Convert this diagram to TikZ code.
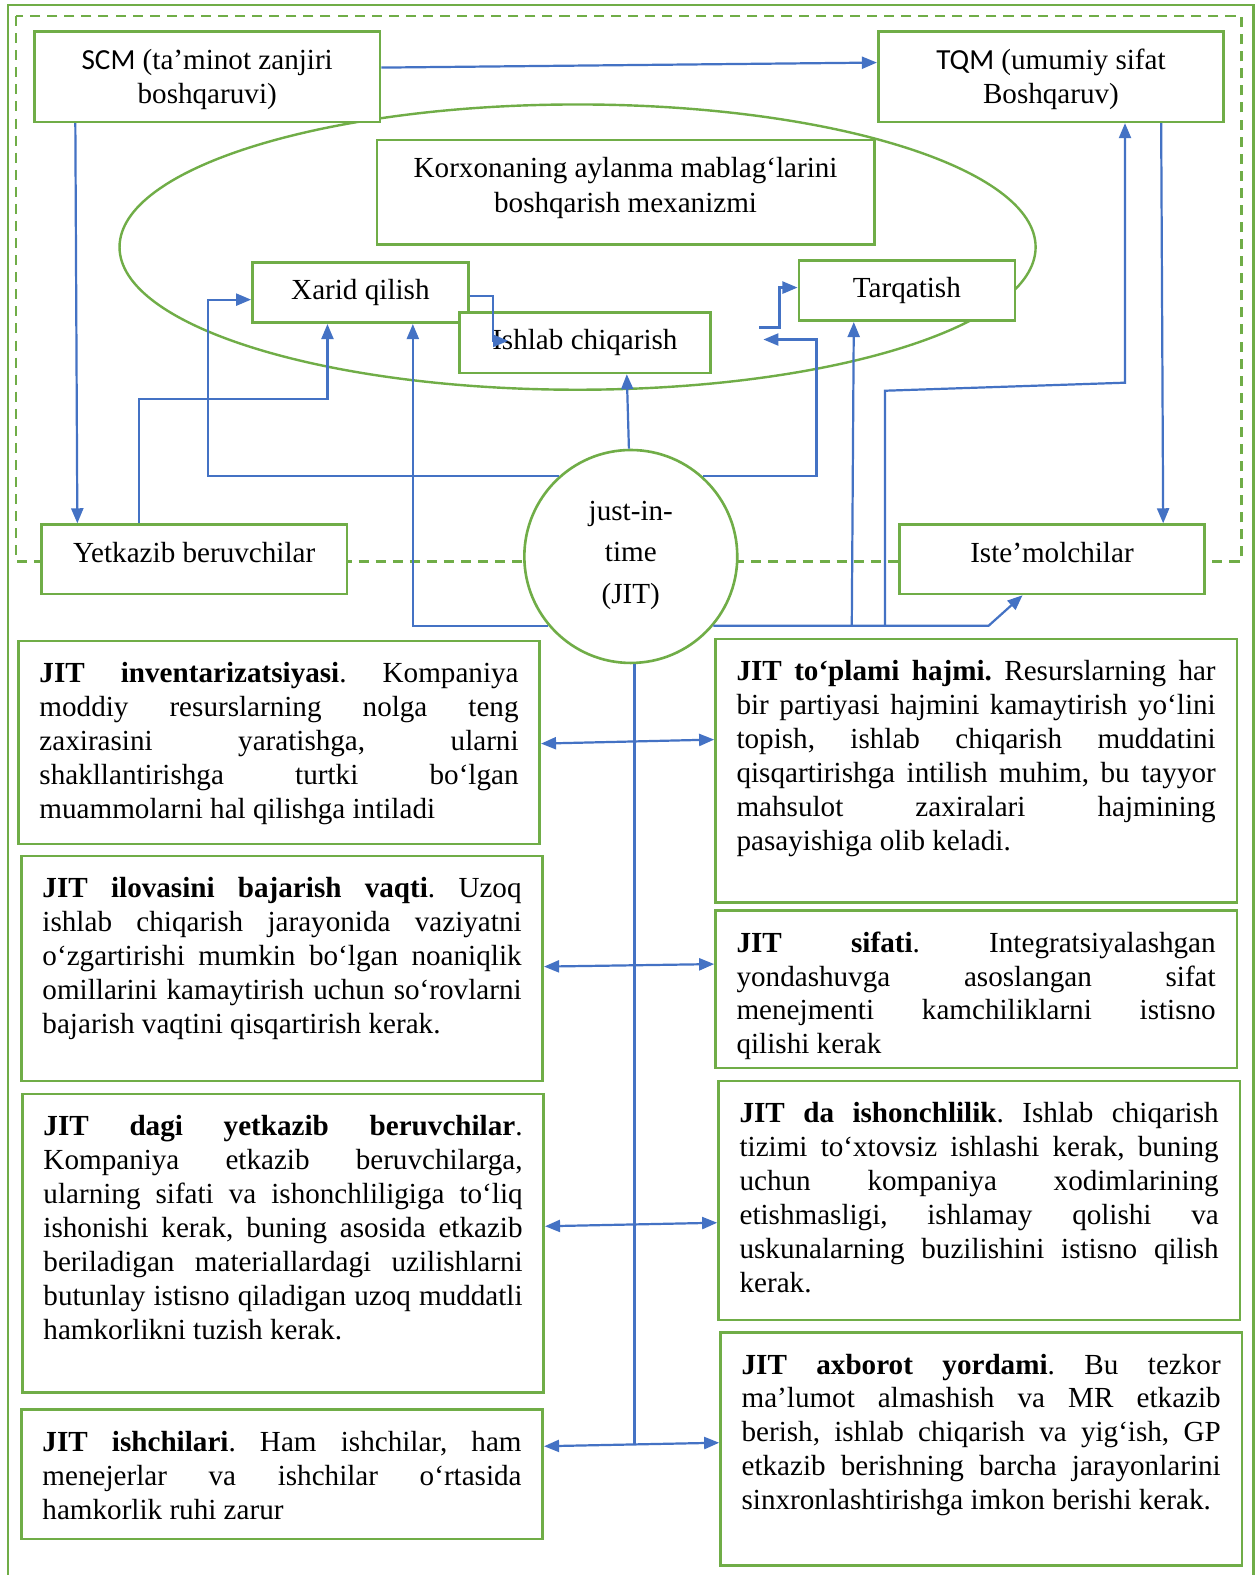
\documentclass[tikz,border=0pt]{standalone}
\usepackage{fontspec}
\setmainfont{Liberation Serif}
\newfontfamily\calfont{Carlito}
\usetikzlibrary{arrows.meta}
\frenchspacing
\definecolor{jgreen}{HTML}{70AD47}
\definecolor{jblue}{HTML}{4472C4}
\newcommand\mylbl[1]{\begin{tabular}{@{}c@{}}#1\end{tabular}}
\newcommand\jbox[2]{\parbox[c][#1][t]{477pt}{\fontsize{29}{33.75}\selectfont\frenchspacing\hyphenpenalty=10000\exhyphenpenalty=10000\tolerance=10000\hbadness=10000\vbadness=10000\strut #2}}
\tikzset{
  grn/.style={draw=jgreen, line width=2.6pt},
  lab/.style={grn, fill=white, inner sep=0pt, anchor=north west, font=\fontsize{29}{34}\selectfont},
  tbox/.style={grn, fill=white, inner xsep=21pt, inner ysep=18pt, anchor=north west},
  con/.style={draw=jblue, line width=2.2pt, -{Triangle[length=15pt,width=12pt]}},
  dcon/.style={draw=jblue, line width=2.2pt, {Triangle[length=15pt,width=12pt]}-{Triangle[length=15pt,width=12pt]}},
  plainline/.style={draw=jblue, line width=2.2pt},
}
\begin{document}
\begin{tikzpicture}[x=1pt,y=-1pt]
\useasboundingbox[fill=white] (0,0) rectangle (1250,1568);
% frames
\draw[jgreen, line width=2.4pt] (8,1600) -- (8,5) -- (1248,5) -- (1248,1600);
\draw[jgreen, line width=2.2pt, dash pattern=on 10pt off 7pt] (16,16) rectangle (1236,559);
% ellipse
\draw[jgreen, line width=2.4pt] (575,246) ellipse [x radius=456pt, y radius=142pt];
% top nodes
\node[lab, minimum width=344pt, minimum height=90pt] (SCM) at (33,30) {\mylbl{{\calfont SCM} (ta’minot zanjiri\\boshqaruvi)\\[-6pt]}};
\node[lab, minimum width=344pt, minimum height=90pt] (TQM) at (873,30) {\mylbl{{\calfont TQM} (umumiy sifat\\Boshqaruv)\\[-6pt]}};
\node[lab, minimum width=495pt, minimum height=104pt] (Kor) at (374,138) {\mylbl{Korxonaning aylanma mablag‘larini\\boshqarish mexanizmi\\[8pt]}};
\node[lab, minimum width=215pt, minimum height=60pt] (Xar) at (250,260) {\mylbl{Xarid qilish}};
\node[lab, minimum width=250pt, minimum height=60pt] (Ish) at (456,310) {\mylbl{Ishlab chiqarish}};
\node[lab, minimum width=215pt, minimum height=60pt] (Tarq) at (794,258) {\mylbl{Tarqatish}};
\node[lab, minimum width=304pt, minimum height=69pt] (Yet) at (40,521) {\mylbl{Yetkazib beruvchilar\\[8pt]}};
\node[lab, minimum width=304pt, minimum height=69pt] (Ist) at (894,521) {\mylbl{Iste’molchilar\\[8pt]}};
\node[grn, fill=white, circle, minimum size=212pt, inner sep=0pt, font=\fontsize{29}{41.5}\selectfont] (JIT) at (628,554) {\mylbl{just-in-\\time\\(JIT)\\[6pt]}};
% text boxes
\node[tbox] (L1) at (17,637) {\jbox{166pt}{\textbf{JIT inventarizatsiyasi}. Kompaniya\linebreak moddiy resurslarning nolga teng\linebreak zaxirasini yaratishga, ularni\linebreak shakllantirishga turtki bo‘lgan\linebreak muammolarni hal qilishga intiladi}};
\node[tbox] (L2) at (20,851) {\jbox{188pt}{\textbf{JIT ilovasini bajarish vaqti}. Uzoq\linebreak ishlab chiqarish jarayonida vaziyatni\linebreak o‘zgartirishi mumkin bo‘lgan noaniqlik\linebreak omillarini kamaytirish uchun so‘rovlarni\linebreak bajarish vaqtini qisqartirish kerak.}};
\node[tbox] (L3) at (21,1088) {\jbox{261pt}{\textbf{JIT dagi yetkazib beruvchilar}.\linebreak Kompaniya etkazib beruvchilarga,\linebreak ularning sifati va ishonchliligiga to‘liq\linebreak ishonishi kerak, buning asosida etkazib\linebreak beriladigan materiallardagi uzilishlarni\linebreak butunlay istisno qiladigan uzoq muddatli\linebreak hamkorlikni tuzish kerak.}};
\node[tbox] (L4) at (20,1402) {\jbox{93pt}{\textbf{JIT ishchilari}. Ham ishchilar, ham\linebreak menejerlar va ishchilar o‘rtasida\linebreak hamkorlik ruhi zarur}};
\node[tbox] (R1) at (711,635) {\jbox{226pt}{\textbf{JIT to‘plami hajmi.} Resurslarning har\linebreak bir partiyasi hajmini kamaytirish yo‘lini\linebreak topish, ishlab chiqarish muddatini\linebreak qisqartirishga intilish muhim, bu tayyor\linebreak mahsulot zaxiralari hajmining\linebreak pasayishiga olib keladi.}};
\node[tbox] (R2) at (711,905) {\jbox{121pt}{\textbf{JIT sifati}. Integratsiyalashgan\linebreak yondashuvga asoslangan sifat\linebreak menejmenti kamchiliklarni istisno\linebreak qilishi kerak}};
\node[tbox] (R3) at (714,1075) {\jbox{202pt}{\textbf{JIT da ishonchlilik}. Ishlab chiqarish\linebreak tizimi to‘xtovsiz ishlashi kerak, buning\linebreak uchun kompaniya xodimlarining\linebreak etishmasligi, ishlamay qolishi va\linebreak uskunalarning buzilishini istisno qilish\linebreak kerak.}};
\node[tbox] (R4) at (716,1325) {\jbox{196pt}{\textbf{JIT axborot yordami}. Bu tezkor\linebreak ma’lumot almashish va MR etkazib\linebreak berish, ishlab chiqarish va yig‘ish, GP\linebreak etkazib berishning barcha jarayonlarini\linebreak sinxronlashtirishga imkon berishi kerak.}};
% free connector ends
\coordinate (pin) at (760,338);
\coordinate (pout) at (756,326);
\coordinate (br1) at (848,622);
\coordinate (br2) at (881,622);
% connectors
\draw[con] ([xshift=42pt]SCM.south west) -- ([xshift=37pt]Yet.north west);
\draw[con] ([xshift=283pt]TQM.south west) -- ([xshift=264pt]Ist.north west);
\draw[con] ([yshift=9pt]SCM.east) -- ([yshift=14pt]TQM.west);
\draw[con] ([xshift=98pt]Yet.north west) -- ++(0,-124) -| ([xshift=76pt]Xar.south west);
\draw[con] (JIT.132) -- ++(-349,0) |- ([yshift=-7pt]Xar.west);
\draw[con] (JIT.220) -| ([xshift=161pt]Xar.south west);
\draw[con] (JIT.91) -- ([xshift=168pt]Ish.south west);
\draw[con] ([yshift=-3pt]Xar.east) -- ++(23,0) -- ++(0,45) -- ([xshift=50pt,yshift=2pt]Ish.west);
\draw[con] (JIT.48) -- ++(113,0) |- (pin);
\draw[con] (pout) -- ++(20,0) |- ([yshift=3pt]Tarq.west);
\draw[con] (JIT.320) -- ++(274,0) -- ([xshift=124pt]Ist.south west);
\draw[con] (br1) -- ([xshift=56pt]Tarq.south west);
\draw[con] (br2) -- ++(0,-233) -- ++(239,-8) -- ([xshift=247pt]TQM.south west);
\draw[plainline] (JIT.-88) -- ++(0,777);
\draw[dcon] ([yshift=-1pt]L1.east) -- ([yshift=31pt]R1.west);
\draw[dcon] ([yshift=2pt]L2.east) -- ([yshift=25pt]R2.west);
\draw[dcon] ([yshift=17pt]L3.east) -- ([yshift=-22pt]R3.west);
\draw[dcon] ([yshift=28pt]L4.east) -- ([yshift=6pt]R4.west);
\end{tikzpicture}
\end{document}
